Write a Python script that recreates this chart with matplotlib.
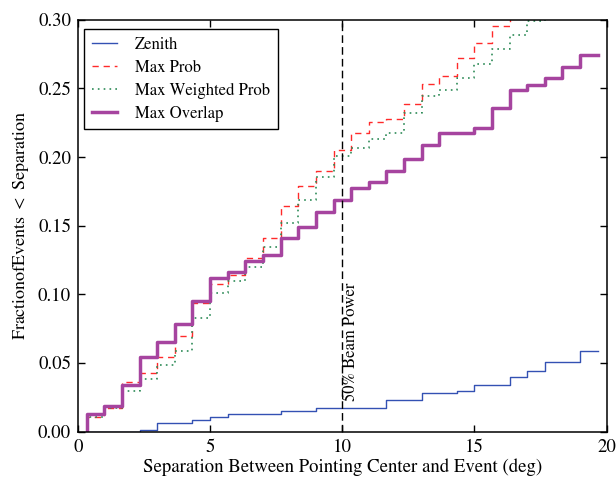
import numpy as np
import matplotlib
matplotlib.use('Agg')
import matplotlib.pyplot as plt

plt.rcParams['font.family'] = ['STIXGeneral', 'DejaVu Serif']
plt.rcParams['mathtext.fontset'] = 'stix'
plt.rcParams['font.size'] = 12

# Step positions (deg) and cumulative fraction of events for each pointing method
separation = [0.33, 1.00, 1.67, 2.33, 3.00, 3.67, 4.33, 5.00, 5.67, 6.33,
              7.00, 7.67, 8.33, 9.00, 9.67, 10.33, 11.00, 11.67, 12.33, 13.00,
              13.67, 14.33, 15.00, 15.67, 16.33, 17.00, 17.67, 18.33, 19.00, 19.67]

zenith = [0, 0, 0, 0, 0.0015, 0.0063, 0.0063, 0.0085, 0.0106, 0.0128,
          0.0128, 0.0128, 0.0151, 0.0151, 0.0170, 0.0170, 0.0170, 0.0170, 0.0231, 0.0231,
          0.0280, 0.0280, 0.0296, 0.0340, 0.0340, 0.0401, 0.0444, 0.0505, 0.0505, 0.0590]

max_prob = [0, 0.0109, 0.0173, 0.0360, 0.0425, 0.0546, 0.0697, 0.0940, 0.1076, 0.1141,
            0.1263, 0.1413, 0.1646, 0.1792, 0.1901, 0.2047, 0.2173, 0.2253, 0.2280, 0.2384,
            0.2530, 0.2591, 0.2720, 0.2827, 0.2952, 0.3050, 0.3150, 0.3220, 0.3300, 0.3380]

max_weighted_prob = [0, 0.0105, 0.0170, 0.0299, 0.0382, 0.0486, 0.0590, 0.0824, 0.1012, 0.1098,
                     0.1202, 0.1347, 0.1518, 0.1688, 0.1857, 0.2005, 0.2068, 0.2129, 0.2173, 0.2319,
                     0.2447, 0.2489, 0.2572, 0.2677, 0.2783, 0.2889, 0.2993, 0.3060, 0.3120, 0.3200]

max_overlap = [0, 0.0129, 0.0187, 0.0338, 0.0546, 0.0651, 0.0782, 0.0948, 0.1115, 0.1161,
               0.1245, 0.1287, 0.1410, 0.1493, 0.1602, 0.1688, 0.1773, 0.1814, 0.1901, 0.1984,
               0.2088, 0.2173, 0.2173, 0.2212, 0.2360, 0.2487, 0.2525, 0.2574, 0.2656, 0.2739]

beam_half_power = 10

fig = plt.figure(figsize=(6.16, 4.79), dpi=100)
ax = fig.add_axes([0.1266, 0.099, 0.858, 0.860])

ax.plot(separation, zenith, drawstyle='steps-pre', color='#3351b3', lw=1.0, label='Zenith')
ax.plot(separation, max_prob, drawstyle='steps-pre', color='#ff2a2a', lw=1.0,
        dashes=(4.5, 3.5), label='Max Prob')
ax.plot(separation, max_weighted_prob, drawstyle='steps-pre', color='#2e8b57', lw=1.2,
        dashes=(1, 2.5), label='Max Weighted Prob')
ax.plot(separation, max_overlap, drawstyle='steps-pre', color='#a6449f', lw=2.5,
        label='Max Overlap')

ax.axvline(beam_half_power, color='black', lw=1.0, dashes=(5.5, 3))
ax.text(beam_half_power + 0.02, 0.022, '50% Beam Power', rotation=90,
        ha='left', va='bottom', fontsize=12)

ax.set_xlim(0, 20)
ax.set_ylim(0, 0.30)
ax.set_xticks([0, 5, 10, 15, 20])
ax.set_yticks(np.arange(0, 0.301, 0.05))
ax.yaxis.set_major_formatter(matplotlib.ticker.FormatStrFormatter('%.2f'))
ax.tick_params(direction='in', top=True, right=True, length=5, width=1, pad=5,
               labelsize=13.5)
for s in ax.spines.values():
    s.set_linewidth(1.1)

ax.set_xlabel('Separation Between Pointing Center and Event (deg)', fontsize=13.5, labelpad=2)
ax.set_ylabel(r'$\mathrm{Fraction of Events}\ <\ \mathrm{Separation}$', fontsize=13,
              labelpad=5)

leg = ax.legend(loc='upper left', bbox_to_anchor=(0.012, 0.977), fancybox=False,
                framealpha=1, edgecolor='black', handlelength=1.5, handletextpad=1.1,
                labelspacing=0.42, borderpad=0.45, borderaxespad=0)
leg.get_frame().set_linewidth(1.0)

plt.savefig('out.png', dpi=100)
plt.close()
